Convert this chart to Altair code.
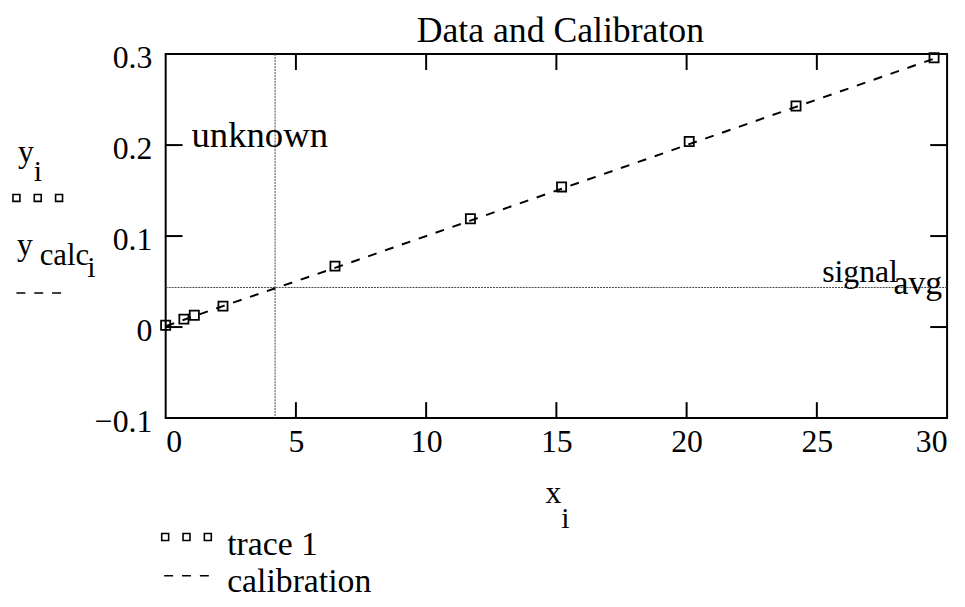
import altair as alt
import pandas as pd

# ---- data ----
x_data = [0.0, 0.7, 1.1, 2.2, 6.5, 11.7, 15.2, 20.1, 24.2, 29.5]
y_data = [0.002, 0.0087, 0.013, 0.023, 0.067, 0.119, 0.154, 0.204, 0.243, 0.296]
y_calc = [0.001, 0.008, 0.012, 0.023, 0.065, 0.117, 0.152, 0.201, 0.242, 0.295]
x_unknown = [4.2]
signal_avg = [0.0435]
x_tick_labels = [0, 5, 10, 15, 20, 25, 30]
y_tick_labels = [-0.1, 0, 0.1, 0.2, 0.3]
x_inner_ticks = [5, 10, 15, 20, 25]
y_inner_ticks = [0, 0.1, 0.2]

W, H = 788, 367
FONT = "Liberation Serif"

xs = alt.Scale(domain=[0, 30], nice=False, zero=False)
ys = alt.Scale(domain=[-0.1, 0.3], nice=False, zero=False)
x_axis = alt.Axis(values=x_tick_labels, title=None, labelFlush=True, labelPadding=9,
                  format="~g")
y_axis = alt.Axis(values=y_tick_labels, title=None, labelPadding=14, format=".1~f",
                  labelOffset=4)

df = pd.DataFrame({"x": x_data, "y": y_data, "yc": y_calc})

calib = alt.Chart(df).mark_line(color="black", strokeDash=[9, 9], strokeWidth=2).encode(
    x=alt.X("x:Q", scale=xs, axis=x_axis),
    y=alt.Y("yc:Q", scale=ys, axis=y_axis),
)
points = alt.Chart(df).mark_point(shape="square", filled=False, color="black",
                                  size=85, strokeWidth=1.8, opacity=1).encode(
    x=alt.X("x:Q", scale=xs, axis=x_axis),
    y=alt.Y("y:Q", scale=ys, axis=y_axis),
)

vline = alt.Chart(pd.DataFrame({"u": x_unknown})).mark_rule(
    color="#444", strokeWidth=1, strokeDash=[2, 1]).encode(
    x=alt.X("u:Q", scale=xs, axis=x_axis))
hline = alt.Chart(pd.DataFrame({"s": signal_avg})).mark_rule(
    color="#444", strokeWidth=1, strokeDash=[2, 1]).encode(
    y=alt.Y("s:Q", scale=ys, axis=y_axis))

xt = pd.DataFrame({"t": x_inner_ticks})
yt = pd.DataFrame({"t": y_inner_ticks})
tick_style = dict(color="black", strokeWidth=2)
bottom_ticks = alt.Chart(xt).mark_rule(**tick_style).encode(
    x=alt.X("t:Q", scale=xs, axis=x_axis), y=alt.value(H), y2=alt.value(H - 16))
top_ticks = alt.Chart(xt).mark_rule(**tick_style).encode(
    x=alt.X("t:Q", scale=xs, axis=x_axis), y=alt.value(0), y2=alt.value(16))
left_ticks = alt.Chart(yt).mark_rule(**tick_style).encode(
    y=alt.Y("t:Q", scale=ys, axis=y_axis), x=alt.value(0), x2=alt.value(17))
right_ticks = alt.Chart(yt).mark_rule(**tick_style).encode(
    y=alt.Y("t:Q", scale=ys, axis=y_axis), x=alt.value(W), x2=alt.value(W - 17))

one = pd.DataFrame({"a": [0]})


def label(text, x, y, size=32, align="left"):
    return alt.Chart(one).mark_text(text=text, font=FONT, fontSize=size, align=align,
                                    baseline="alphabetic", color="black").encode(
        x=alt.value(x), y=alt.value(y))


TRIPLE_SQ = ("M-1,-0.14h0.28v0.28h-0.28z M-0.14,-0.14h0.28v0.28h-0.28z "
             "M0.72,-0.14h0.28v0.28h-0.28z")
DASHES = "M-1,0h0.4 M-0.2,0h0.4 M0.6,0h0.4"


def sym(path, x, y, size, sw):
    return alt.Chart(one).mark_point(shape=path, filled=False, color="black",
                                     size=size, strokeWidth=sw, opacity=1).encode(
        x=alt.value(x), y=alt.value(y))


annots = [
    label("Data and Calibraton", 398, -12, 36, "center"),
    label("unknown", 26, 94, 37),
    label("signal", 662, 230, 32),
    label("avg", 734, 242, 34),
    # y-axis legend-like title
    label("y", -149, 109, 32),
    label("i", -133, 128, 30),
    sym(TRIPLE_SQ, -129, 145, 2500, 1.6),
    label("y", -150, 203, 32),
    label("calc", -127, 213, 31),
    label("i", -79, 225, 30),
    sym(DASHES, -128, 241, 2025, 1.5),
    # x-axis title
    label("x", 383, 453, 32),
    label("i", 399, 478, 30),
    # bottom legend
    sym(TRIPLE_SQ, 21, 487, 2500, 1.6),
    label("trace 1", 62, 505, 34),
    sym(DASHES, 21, 526, 2025, 1.5),
    label("calibration", 62, 542, 34),
]

chart = alt.layer(
    vline, hline, calib, points,
    bottom_ticks, top_ticks, left_ticks, right_ticks,
    *annots,
).properties(
    width=W, height=H,
    padding={"left": 159, "top": 44, "right": 10, "bottom": 180},
    autosize=alt.AutoSizeParams(type="none"),
).configure_view(
    stroke="black", strokeWidth=2
).configure_axis(
    ticks=False, domain=False, grid=False,
    labelFont=FONT, labelFontSize=32, labelColor="black",
)

chart.save("out.html", embed_options={"renderer": "svg", "actions": False})
